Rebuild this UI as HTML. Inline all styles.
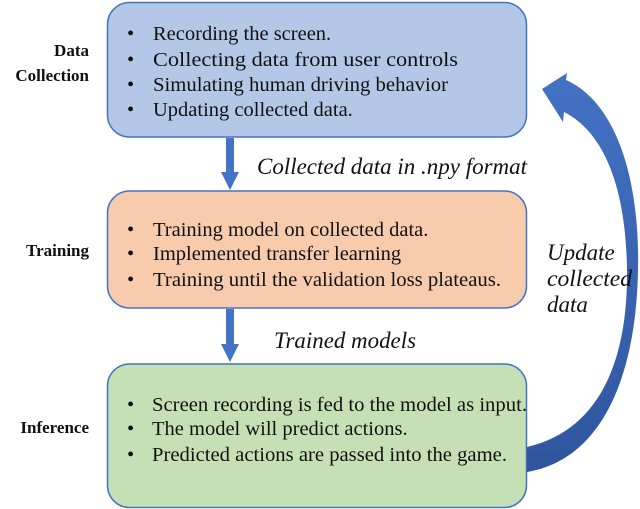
<!DOCTYPE html>
<html><head><meta charset="utf-8"><style>
html,body{margin:0;padding:0;background:#fff;}
svg{display:block;}
text{font-family:"Liberation Serif",serif;fill:#111;}
</style></head><body>
<svg width="640" height="509" viewBox="0 0 640 509" xmlns="http://www.w3.org/2000/svg">
<rect x="107.5" y="2.5" width="419" height="134.5" rx="22" fill="#b4c7e7" stroke="#4472c4" stroke-width="1.5"/>
<rect x="107.5" y="191" width="419" height="117" rx="22" fill="#f8cbad" stroke="#4472c4" stroke-width="1.5"/>
<rect x="107.5" y="364" width="419" height="143.5" rx="22" fill="#c5e0b4" stroke="#4472c4" stroke-width="1.5"/>
<rect x="226" y="138" width="8" height="36" fill="#4472c4"/>
<polygon points="221,172 239,172 230,190" fill="#4472c4"/>
<rect x="226" y="309" width="8" height="37" fill="#4472c4"/>
<polygon points="221,344 239,344 230,362" fill="#4472c4"/>
<defs><linearGradient id="g" x1="0" y1="0" x2="0" y2="1"><stop offset="0" stop-color="#4472c4"/><stop offset="1" stop-color="#2f559e"/></linearGradient></defs>
<path d="M527,447 C600,430 628,360 627,270 C626,180 600,130 564,112 L563,122 L542,89 L567,73 L566,80 C612,100 640,170 638,270 C636,380 600,460 527,472 Z" fill="url(#g)"/>
<g font-weight="bold" font-size="17" text-anchor="end">
<text x="89" y="56">Data</text>
<text x="89" y="81">Collection</text>
<text x="89" y="256">Training</text>
<text x="89" y="433">Inference</text>
</g>
<g font-size="20.5">
<text x="127" y="40">•</text><text x="153" y="40">Recording the screen.</text>
<text x="127" y="66">•</text><text x="153" y="66" textLength="305" lengthAdjust="spacingAndGlyphs">Collecting data from user controls</text>
<text x="127" y="91">•</text><text x="153" y="91" textLength="295" lengthAdjust="spacingAndGlyphs">Simulating human driving behavior</text>
<text x="127" y="116">•</text><text x="153" y="116">Updating collected data.</text>
<text x="127" y="236">•</text><text x="153" y="236">Training model on collected data.</text>
<text x="127" y="260">•</text><text x="153" y="260">Implemented transfer learning</text>
<text x="127" y="286">•</text><text x="153" y="286" textLength="348" lengthAdjust="spacingAndGlyphs">Training until the validation loss plateaus.</text>
<text x="127" y="411">•</text><text x="152" y="411" textLength="375" lengthAdjust="spacingAndGlyphs">Screen recording is fed to the model as input.</text>
<text x="127" y="435">•</text><text x="152" y="435">The model will predict actions.</text>
<text x="127" y="461">•</text><text x="152" y="461" textLength="355" lengthAdjust="spacingAndGlyphs">Predicted actions are passed into the game.</text>
</g>
<g font-size="23" font-style="italic">
<text x="257" y="174" textLength="270" lengthAdjust="spacingAndGlyphs">Collected data in .npy format</text>
<text x="274" y="348" textLength="142" lengthAdjust="spacingAndGlyphs">Trained models</text>
<text x="547" y="260">Update</text>
<text x="547" y="286" textLength="85" lengthAdjust="spacingAndGlyphs">collected</text>
<text x="547" y="312">data</text>
</g>
</svg>
</body></html>
